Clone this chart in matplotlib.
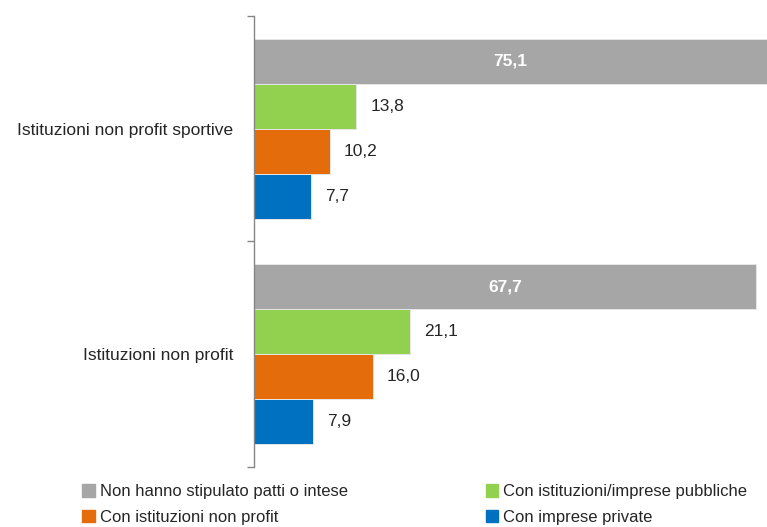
import matplotlib.pyplot as plt
from matplotlib.patches import Patch

plt.rcParams['font.family'] = ['Liberation Sans Narrow', 'Liberation Sans', 'DejaVu Sans']

# Dati (valori percentuali)
categorie = ['Istituzioni non profit sportive', 'Istituzioni non profit']
serie = ['Non hanno stipulato patti o intese',
         'Con istituzioni/imprese pubbliche',
         'Con istituzioni non profit',
         'Con imprese private']
non_hanno = [75.1, 67.7]
pubbliche = [13.8, 21.1]
non_profit = [10.2, 16.0]
private = [7.7, 7.9]

valori = [non_hanno, pubbliche, non_profit, private]
colori = ['#A6A6A6', '#92D050', '#E46C0A', '#0070C0']

fig = plt.figure(figsize=(7.67, 5.27), dpi=100)
ax = fig.add_axes([254 / 767, 1 - 467 / 527, 1 - 254 / 767, (467 - 16) / 527])

xmax = 69.2
h = 0.2
offsets = [-0.3, -0.1, 0.1, 0.3]

for s, (vals, col, off) in enumerate(zip(valori, colori, offsets)):
    ys = [g + off for g in range(len(categorie))]
    ax.barh(ys, vals, height=h, color=col, edgecolor='#E6E6E6', linewidth=0.7, zorder=2)
    for y, v in zip(ys, vals):
        testo = f'{v:.1f}'.replace('.', ',')
        if s == 0:
            # etichetta dentro la barra grigia
            ax.text(min(v, xmax) / 2, y, testo, ha='center', va='center',
                    color='white', fontsize=12.5, weight='bold')
        else:
            ax.text(v + 1.9, y, testo, ha='left', va='center',
                    color='#262626', fontsize=12.5)

ax.set_xlim(0, xmax)
ax.set_ylim(1.5, -0.5)
ax.set_xticks([])

# etichette categorie al centro, tacche ai confini
ax.set_yticks(range(len(categorie)))
ax.set_yticklabels(categorie, fontsize=12.5, color='#262626')
ax.tick_params(axis='y', which='major', length=0, pad=15)
ax.set_yticks([-0.5, 0.5, 1.5], minor=True)
ax.tick_params(axis='y', which='minor', length=5, color='#868686', width=1)

for sp in ['top', 'right', 'bottom']:
    ax.spines[sp].set_visible(False)
ax.spines['left'].set_color('#868686')
ax.spines['left'].set_linewidth(1)

# Legenda (due colonne, ordine per riga)
handles = [Patch(color=c) for c in colori]
ordine = [0, 2, 1, 3]
fig.legend([handles[i] for i in ordine], [serie[i] for i in ordine],
           ncol=2, loc='lower left', bbox_to_anchor=(67 / 767, -0.024),
           frameon=False, fontsize=12, handlelength=0.75, handleheight=0.75,
           handletextpad=0.3, columnspacing=8.3, labelspacing=0.62,
           labelcolor='#262626')

plt.savefig('out.png', dpi=100)
